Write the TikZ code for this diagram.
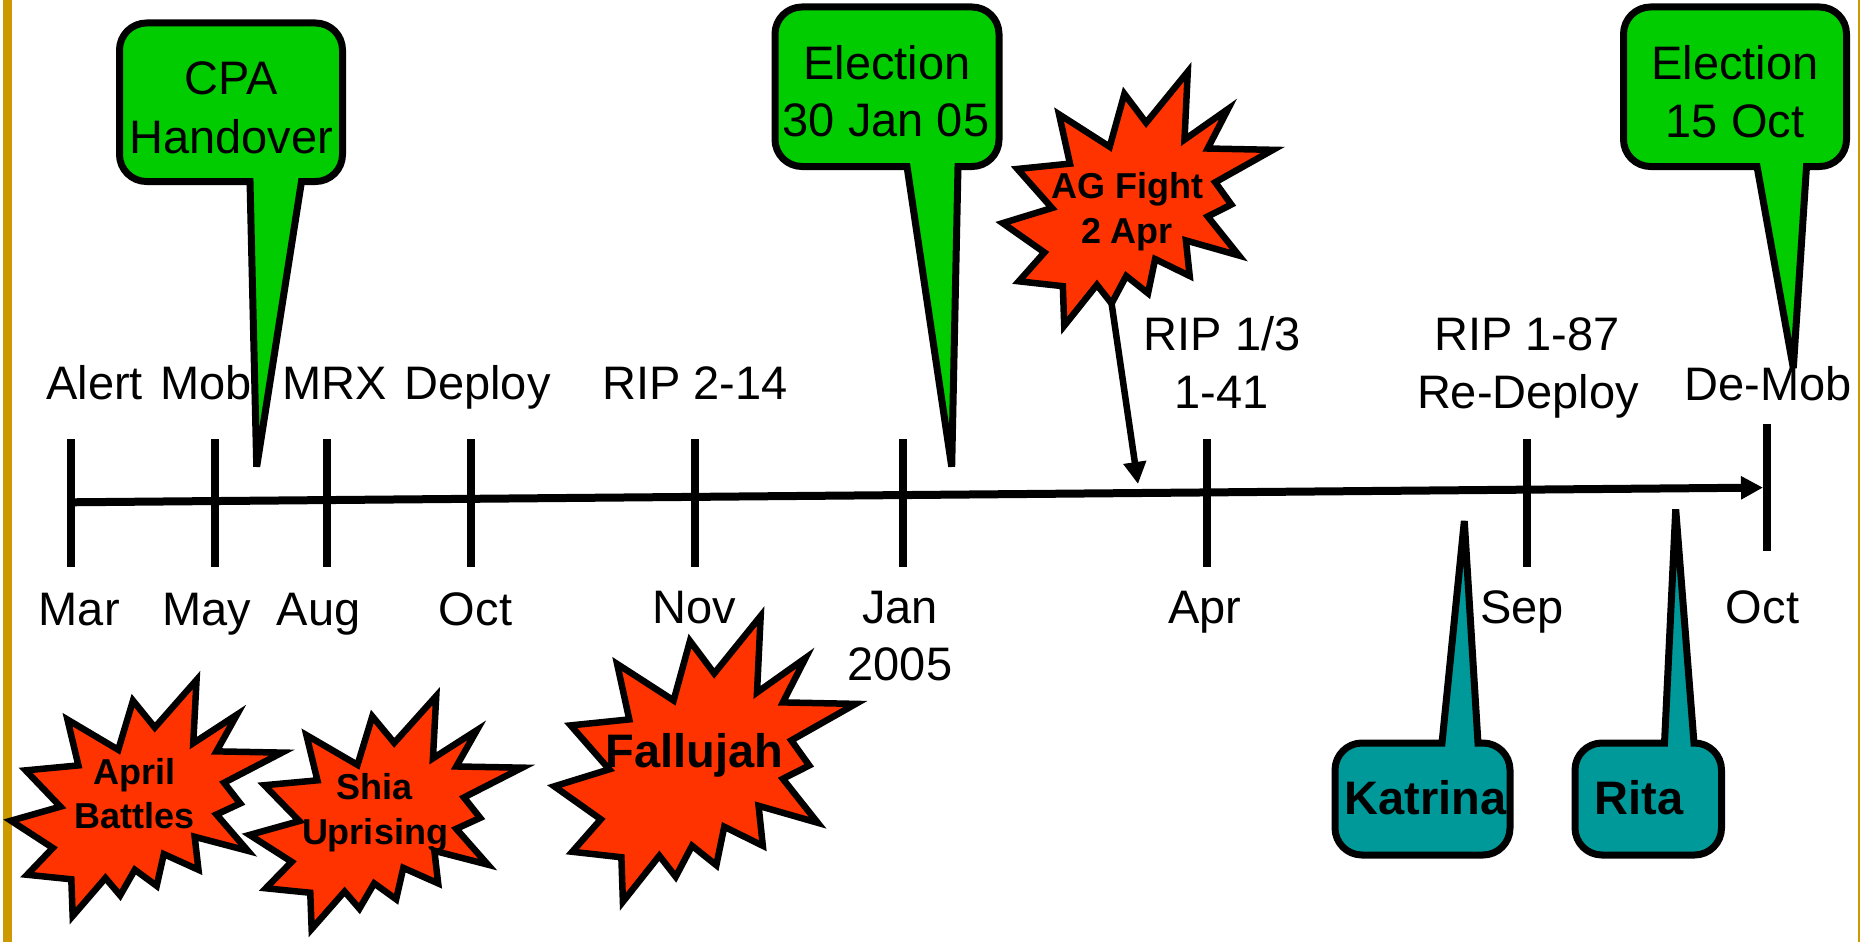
\documentclass[tikz,border=0pt]{standalone}
\usepackage{fontspec}
\setmainfont{Liberation Sans}
\usetikzlibrary{arrows.meta}
\definecolor{cgreen}{RGB}{0,204,0}
\definecolor{cred}{RGB}{255,51,0}
\definecolor{cteal}{RGB}{0,153,153}
\definecolor{cgold}{RGB}{204,153,0}
\tikzset{
 axisline/.style={line width=8pt},
 tickline/.style={line width=8pt},
 boom/.style={draw=black, fill=cred, line width=6.5pt, line join=miter, miter limit=10},
 gcall/.style={draw=black, fill=cgreen, line width=7pt, line join=miter, miter limit=2},
 tcall/.style={gcall, fill=cteal},
 lbl/.style={font=\fontsize{47}{56}\selectfont, inner sep=0pt, anchor=base},
 blbl/.style={font=\bfseries\fontsize{36}{44}\selectfont, inner sep=0pt, anchor=base},
 bbig/.style={font=\bfseries\fontsize{47}{56}\selectfont, inner sep=0pt, anchor=base},
}
\newcommand\boomat[5]{%
 \begin{scope}[shift={(#2,#3)},xscale=#4,yscale=#5]
 \draw[boom] (0.5306,0.2010) -- (0.6847,0) -- (0.6725,0.2675) -- (0.8337,0.1469) -- (0.7583,0.3024) -- (1,0.3076) -- (0.7863,0.4353) -- (0.8458,0.5231) -- (0.7583,0.5699) -- (0.8739,0.7237) -- (0.6778,0.6644) -- (0.6918,0.8042) -- (0.5639,0.7377) -- (0.5376,0.8723) -- (0.4570,0.8042) -- (0.4028,0.9126) -- (0.3485,0.8391) -- (0.2276,1) -- (0.2225,0.8444) -- (0.0595,0.8252) -- (0.1542,0.7116) -- (0,0.5962) -- (0.1822,0.5367) -- (0.0543,0.3829) -- (0.2487,0.3619) -- (0.2084,0.1678) -- (0.3958,0.2955) -- (0.4501,0.0874) -- cycle;
 \coordinate (#1-foot) at (0.4028,0.9126);
 \end{scope}}
\newcommand\calldown[9]{%
 \draw[#1] (#6,#5) [rounded corners=27pt] -- (#2,#5) -- (#2,#3) -- (#4,#3) -- (#4,#5) [sharp corners] -- (#7,#5) -- (#8,#9) -- cycle;}
\newcommand\callup[9]{%
 \draw[#1] (#7,#3) [rounded corners=27pt] -- (#4,#3) -- (#4,#5) -- (#2,#5) -- (#2,#3) [sharp corners] -- (#6,#3) -- (#8,#9) -- cycle;}
\begin{document}
\begin{tikzpicture}[x=1pt,y=-1pt]
\useasboundingbox (0,0) rectangle (1860,942);
\fill[cgold] (2.7,0) rectangle (11.7,942);
\fill[cgold] (1857.5,0) rectangle (1859.5,942);

% ticks
\foreach \x in {70.7, 215, 327, 471, 695, 902.7, 1206.7, 1526.7}
 \draw[tickline] (\x,439.3) -- (\x,566.7);
\draw[tickline] (1766.7,423.6) -- (1766.7,551.2);

% axis
\coordinate (axstart) at (70.7,502.3);
\coordinate (axend) at (1763,487.6);
\draw[axisline,-{Triangle[length=22pt,width=22pt]}] (axstart) -- (axend);

% top labels
\node[lbl] (alert) at (94.7,399) {Alert};
\node[lbl] (mob) at (206,399) {Mob};
\node[lbl] (mrx) at (334.7,399) {MRX};
\node[lbl] (deploy) at (477.5,399) {Deploy};
\node[lbl] (rip214) at (695,399) {RIP 2-14};
\node[lbl] (rip13) at (1222,350) {RIP 1/3};
\node[lbl] (r141) at (1221.7,408) {1-41};
\node[lbl] (rip187) at (1527,350) {RIP 1-87};
\node[lbl] (redeploy) at (1528,408) {Re-Deploy};
\node[lbl] (demob) at (1768,400) {De-Mob};

% bottom labels
\node[lbl] (mar) at (79.2,625) {Mar};
\node[lbl] (may) at (206.7,625) {May};
\node[lbl] (aug) at (318.8,625) {Aug};
\node[lbl] (oct1) at (475.5,625) {Oct};
\node[lbl] (nov) at (694,623) {Nov};
\node[lbl] (jan) at (900,623) {Jan};
\node[lbl] (y2005) at (900,680) {2005};
\node[lbl] (apr) at (1205,623) {Apr};
\node[lbl] (sep) at (1522,623) {Sep};
\node[lbl] (oct2) at (1762.5,623) {Oct};

% explosions
\boomat{april}{11}{680}{271}{236}
\node[blbl] (april1) at (134.7,784) {April};
\node[blbl] (april2) at (134.8,828.3) {Battles};
\boomat{shia}{249.6}{696}{272.6}{233}
\node[blbl] (shia1) at (374.7,799.3) {Shia};
\node[blbl] (shia2) at (375,844) {Uprising};
\boomat{fall}{554.3}{616}{301.4}{285.7}
\node[bbig] (fallujah) at (694.7,767.3) {Fallujah};
\boomat{ag}{1002.7}{71.7}{270.3}{254}
\node[blbl] (ag1) at (1127,198.3) {AG Fight};
\node[blbl] (ag2) at (1127,243.3) {2 Apr};
\coordinate (agtip) at (1138,484);
\draw[line width=6.5pt,-{Triangle[length=22pt,width=22pt]}] (ag-foot) -- (agtip);

% green callouts
\calldown{gcall}{119.5}{23}{342.5}{181.5}{250}{301.5}{256.7}{466.7}
\node[lbl] (cpa1) at (231,95) {CPA};
\node[lbl] (cpa2) at (231,153) {Handover};
\calldown{gcall}{775}{7}{999}{166.5}{907}{958}{951.7}{466.7}
\node[lbl] (ea1) at (887,79) {Election};
\node[lbl] (ea2) at (886,136.7) {30 Jan 05};
\calldown{gcall}{1623.5}{7}{1846.5}{166.5}{1757}{1806.5}{1793.3}{368}
\node[lbl] (eb1) at (1735,79.5) {Election};
\node[lbl] (eb2) at (1735,137) {15 Oct};

% teal callouts
\callup{tcall}{1335}{743}{1510}{855}{1442}{1478}{1464.3}{521}
\node[bbig] (katrina) at (1425.5,814.3) {Katrina};
\callup{tcall}{1575}{743}{1721.5}{855}{1664.5}{1694}{1675.7}{509.3}
\node[bbig] (rita) at (1639,814.3) {Rita};
\end{tikzpicture}
\end{document}
